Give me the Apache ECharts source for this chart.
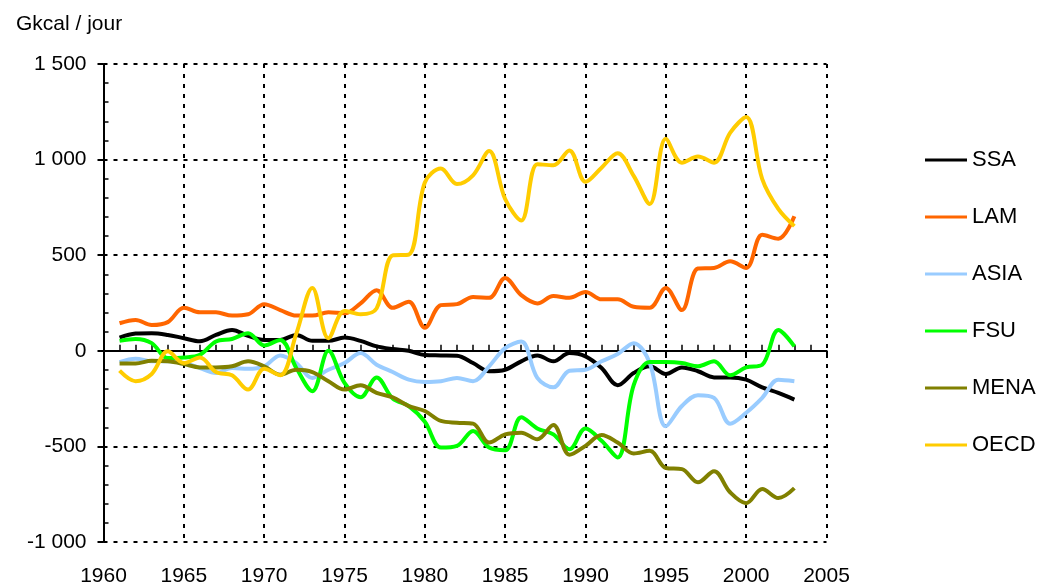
<!DOCTYPE html>
<html>
<head>
<meta charset="utf-8">
<script src="https://cdn.jsdelivr.net/npm/echarts@6/dist/echarts.min.js"></script>
<style>
html,body{margin:0;padding:0;background:#fff;}
#chart{width:1040px;height:587px;}
</style>
</head>
<body>
<div id="chart"></div>
<script>
const years = [1961,1962,1963,1964,1965,1966,1967,1968,1969,1970,1971,1972,1973,1974,1975,1976,1977,1978,1979,1980,1981,1982,1983,1984,1985,1986,1987,1988,1989,1990,1991,1992,1993,1994,1995,1996,1997,1998,1999,2000,2001,2002,2003];
const SSA = [69,90,92,83,66,50,83,109,78,57,57,83,52,52,69,52,23,9,0,-22,-24,-26,-64,-107,-99,-55,-24,-55,-12,-29,-90,-180,-116,-81,-121,-87,-107,-139,-139,-151,-191,-220,-255];
const LAM = [144,161,135,150,225,201,201,184,191,244,213,184,184,201,196,248,317,225,256,121,239,244,282,277,381,291,248,286,277,308,269,269,230,225,329,213,430,433,468,433,607,586,704];
const ASIA = [-59,-42,-55,-55,-64,-90,-116,-90,-94,-81,-24,-64,-142,-99,-64,-12,-73,-111,-151,-163,-159,-142,-159,-81,14,48,-142,-191,-104,-99,-55,-17,40,-64,-395,-289,-232,-246,-381,-324,-246,-151,-159];
const FSU = [52,62,40,-38,-35,-21,49,62,92,28,57,-90,-211,0,-168,-243,-139,-250,-289,-371,-506,-497,-419,-506,-520,-347,-406,-437,-515,-406,-471,-558,-180,-59,-59,-64,-81,-55,-128,-87,-73,109,23];
const MENA = [-66,-66,-52,-55,-69,-87,-87,-81,-55,-81,-125,-99,-111,-159,-203,-180,-220,-243,-289,-315,-367,-376,-381,-480,-437,-428,-463,-388,-544,-497,-440,-480,-537,-523,-613,-619,-688,-630,-740,-797,-723,-770,-718];
const OECD = [-104,-159,-121,-3,-64,-35,-111,-128,-203,-94,-128,90,329,66,208,191,222,499,503,880,953,872,918,1045,794,681,976,970,1048,884,958,1033,915,768,1109,984,1016,984,1140,1223,898,742,652];
const seriesNames = ['SSA','LAM','ASIA','FSU','MENA','OECD'];
const seriesValues = [SSA, LAM, ASIA, FSU, MENA, OECD];
const seriesColors = ['#000000','#FF6600','#99CCFF','#00FF00','#808000','#FFCC00'];

const FONT = 'Liberation Sans, Arial, sans-serif';
const chart = echarts.init(document.getElementById('chart'), null, {renderer:'canvas'});

function fmt(v){
  const s = Math.abs(v).toString().replace(/\B(?=(\d{3})+(?!\d))/g, ' ');
  return (v < 0 ? '-' : '') + s;
}

const grid = {left:103.5, right:213.5, top:64, bottom:42, containLabel:false};
const xCommon = {type:'value', min:1960, max:2005, interval:5};
const yCommon = {type:'value', min:-1000, max:1500, interval:500};

chart.setOption({
  animation:false,
  backgroundColor:'#ffffff',
  title:{text:'Gkcal / jour', left:11, top:9, textStyle:{fontFamily:FONT, fontSize:21, fontWeight:'normal', color:'#000'}},
  legend:{
    orient:'vertical', left:920, top:144, itemWidth:42, itemHeight:3, itemGap:35, icon:'rect',
    textStyle:{fontFamily:FONT, fontSize:22, color:'#000'},
    data:seriesNames
  },
  grid:grid,
  xAxis:[
    Object.assign({}, xCommon, {
      axisLine:{onZero:true, lineStyle:{color:'#000', width:2}},
      axisTick:{show:true, inside:false, length:6, lineStyle:{color:'#000', width:2}},
      minorTick:{show:false},
      axisLabel:{show:false},
      splitLine:{show:true, lineStyle:{color:'#000', width:2, type:[4,6]}}
    }),
    Object.assign({}, xCommon, {
      position:'bottom',
      axisLine:{show:false, onZero:true},
      axisTick:{show:false, inside:true},
      minorTick:{show:true, splitNumber:5, length:6, lineStyle:{color:'#000', width:1.5}},
      axisLabel:{show:false},
      splitLine:{show:false}
    }),
    Object.assign({}, xCommon, {
      position:'bottom',
      axisLine:{show:false, onZero:false},
      axisTick:{show:false},
      axisLabel:{show:true, margin:24, fontFamily:FONT, fontSize:21, color:'#000', formatter:function(v){return String(v);}},
      splitLine:{show:false}
    })
  ],
  yAxis:[
    Object.assign({}, yCommon, {
      axisLine:{show:true, onZero:false, lineStyle:{color:'#000', width:2}},
      axisTick:{show:true, inside:false, length:6, lineStyle:{color:'#000', width:2}},
      axisLabel:{show:true, margin:17, fontFamily:FONT, fontSize:21, color:'#000', formatter:fmt},
      splitLine:{show:true, lineStyle:{color:'#000', width:2, type:[4,6]}}
    }),
    Object.assign({}, yCommon, {
      position:'left',
      axisLine:{show:false, onZero:false},
      axisTick:{show:false, inside:true},
      minorTick:{show:true, splitNumber:5, length:5, lineStyle:{color:'#000', width:1.5}},
      axisLabel:{show:false},
      splitLine:{show:false}
    })
  ],
  series: seriesNames.map((n,i)=>({
    name:n, type:'line', xAxisIndex:0, yAxisIndex:0,
    data: years.map((y,j)=>[y, seriesValues[i][j]]),
    smooth:0.35, showSymbol:false, symbol:'none',
    lineStyle:{color:seriesColors[i], width:4},
    itemStyle:{color:seriesColors[i]}
  }))
});
</script>
</body>
</html>
